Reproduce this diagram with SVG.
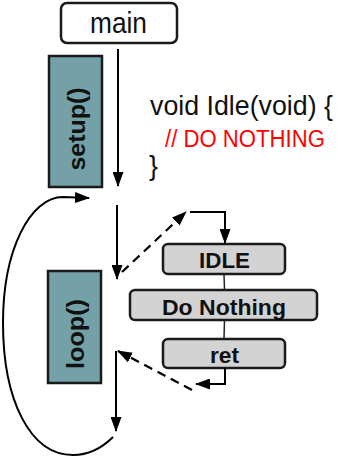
<svg xmlns="http://www.w3.org/2000/svg" width="339" height="461" viewBox="0 0 339 461">
  <defs>
    <marker id="ah" viewBox="0 0 15 11" refX="14" refY="5.5" markerWidth="15" markerHeight="11" orient="auto" markerUnits="userSpaceOnUse">
      <path d="M0,0 L15,5.5 L0,11 z" fill="#000"/>
    </marker>
  </defs>
  <style>
    .lbl { font-family: "Liberation Sans", Arial, sans-serif; fill: #111; }
    .b { font-weight: bold; }
    .func { fill: #74a1a8; stroke: #1a1a1a; stroke-width: 2.5; }
    .step { fill: #d3d3d3; stroke: #1a1a1a; stroke-width: 2.5; }
    .ln { fill: none; stroke: #000; stroke-width: 2; }
    .dash { stroke-dasharray: 9 6; stroke-width: 2.2; }
    .thin { fill: none; stroke: #222; stroke-width: 1.5; }
  </style>
  <rect width="339" height="461" fill="#fff"/>

  <g id="main">
    <rect x="61" y="3" width="116" height="40" rx="6" fill="#fff" stroke="#1a1a1a" stroke-width="2.5"/>
    <text class="lbl" x="118.5" y="33" font-size="30" text-anchor="middle" textLength="57" lengthAdjust="spacingAndGlyphs">main</text>
  </g>

  <g id="setup">
    <rect class="func" x="49" y="56" width="53" height="131"/>
    <text class="lbl b" transform="translate(85,129) rotate(-90)" font-size="23" text-anchor="middle" textLength="83" lengthAdjust="spacingAndGlyphs">setup()</text>
  </g>

  <g id="loop">
    <rect class="func" x="48" y="271" width="53" height="112"/>
    <text class="lbl b" transform="translate(84,334) rotate(-90)" font-size="23" text-anchor="middle" textLength="70" lengthAdjust="spacingAndGlyphs">loop()</text>
  </g>

  <g id="code">
    <text class="lbl" x="150" y="115" font-size="27" textLength="183" lengthAdjust="spacingAndGlyphs">void Idle(void) {</text>
    <text class="lbl" x="165" y="147" font-size="23" style="fill:#ff0000" textLength="160" lengthAdjust="spacingAndGlyphs">// DO NOTHING</text>
    <text class="lbl" x="149" y="175" font-size="27">}</text>
  </g>

  <g id="idle">
    <rect class="step" x="163" y="244" width="122" height="30" rx="5"/>
    <text class="lbl b" x="224.5" y="268" font-size="22" text-anchor="middle" textLength="51" lengthAdjust="spacingAndGlyphs">IDLE</text>
  </g>

  <g id="do-nothing">
    <rect class="step" x="130" y="290" width="187" height="30" rx="5"/>
    <text class="lbl b" x="224" y="315" font-size="22" text-anchor="middle" textLength="124" lengthAdjust="spacingAndGlyphs">Do Nothing</text>
  </g>

  <g id="ret">
    <rect class="step" x="163" y="339" width="122" height="29" rx="5"/>
    <text class="lbl b" x="224.5" y="363" font-size="22" text-anchor="middle" textLength="29" lengthAdjust="spacingAndGlyphs">ret</text>
  </g>

  <g id="connectors">
    <!-- main into setup, then on to loop -->
    <line class="ln" x1="118" y1="49" x2="118" y2="186" marker-end="url(#ah)"/>
    <line class="ln" x1="117" y1="205" x2="117" y2="279" marker-end="url(#ah)"/>
    <!-- call into Idle -->
    <line class="ln dash" x1="122" y1="272" x2="186" y2="212" marker-end="url(#ah)"/>
    <polyline class="ln" points="190,212 225,212 225,243" marker-end="url(#ah)"/>
    <!-- step chain -->
    <line class="thin" x1="224" y1="274" x2="224.5" y2="290"/>
    <line class="thin" x1="224.5" y1="320" x2="224" y2="339"/>
    <!-- return from Idle -->
    <polyline class="ln" points="225,368 225,384 196,384" marker-end="url(#ah)"/>
    <line class="ln dash" x1="192" y1="390" x2="118" y2="351" marker-end="url(#ah)"/>
    <line class="ln" x1="116" y1="351" x2="116" y2="431" marker-end="url(#ah)"/>
    <!-- loop back around -->
    <path class="ln" d="M113,437 C100,450 88,455 73,455 C30,455 3,400 3,323 C3,250 30,197 63,197 L89,198" marker-end="url(#ah)"/>
  </g>
</svg>
